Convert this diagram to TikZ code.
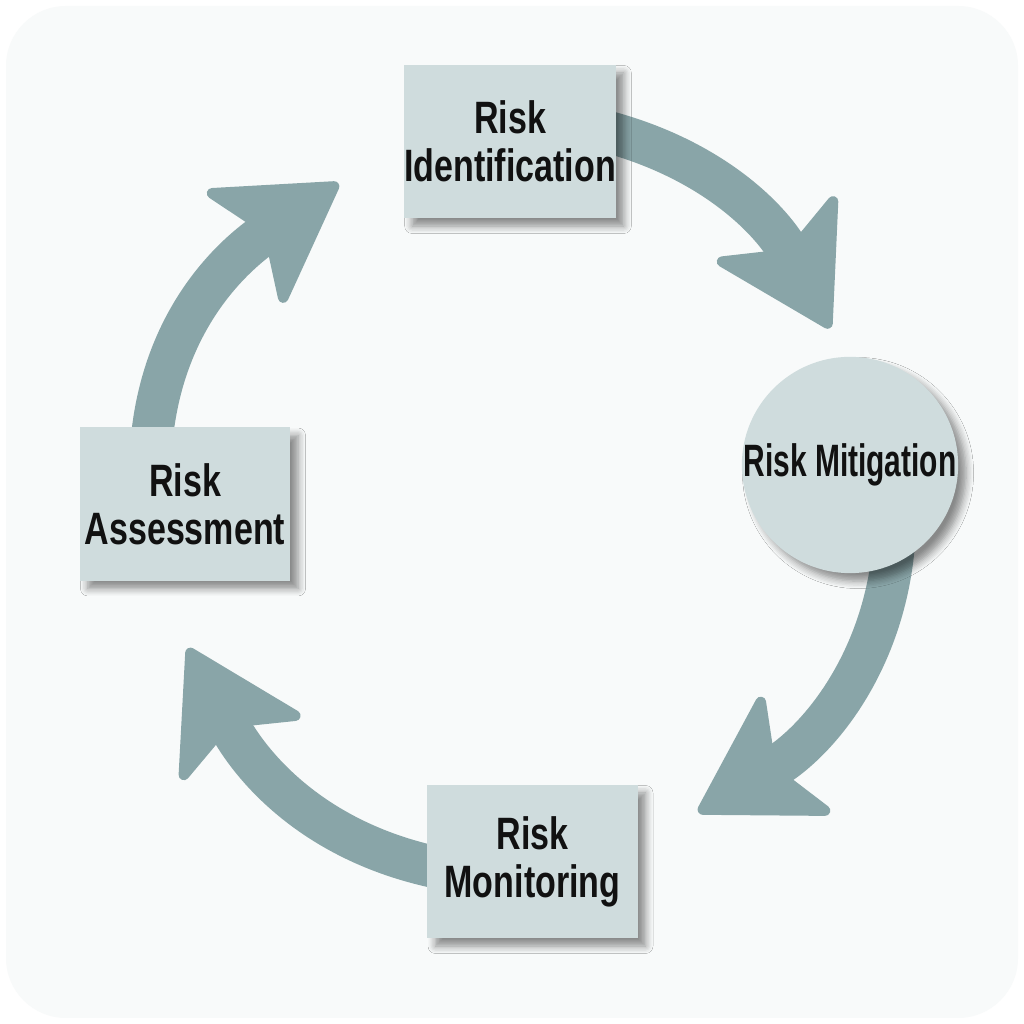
\documentclass[tikz,border=0pt]{standalone}
\usepackage{fontspec}
\setmainfont{Liberation Sans}[FakeStretch=0.75]
\newfontfamily\mitfont{Liberation Sans}[FakeStretch=0.66]
\usetikzlibrary{arrows.meta,shadows.blur}
\definecolor{bandgray}{HTML}{89A5A8}
\definecolor{boxgray}{HTML}{CFDCDD}
\definecolor{pagegray}{HTML}{F8FAFA}
\definecolor{inkblack}{HTML}{111111}
\pgfdeclarelayer{back}
\pgfsetlayers{back,main}
\tikzset{
  stage/.style={fill=boxgray, minimum width=2.1cm, minimum height=1.53cm, inner sep=0pt,
    align=center, text=inkblack, font=\bfseries\fontsize{12.9}{13.7}\selectfont,
    blur shadow={shadow xshift=0.08cm, shadow yshift=-0.08cm, shadow opacity=45, shadow blur steps=6}},
  roundstage/.style={stage, circle, minimum size=2.06cm, font=\mitfont\bfseries\fontsize{12.9}{13.7}\selectfont},
  band/.style={bandgray, line width=0.42cm,
    -{Stealth[length=1.25cm, width=1.5cm, inset=0.3cm, round, line width=3pt]}}
}
\begin{document}
\begin{tikzpicture}[x=0.01cm,y=0.01cm]
	\useasboundingbox (0,0) rectangle (1024,1024);
	\node[stage] (ident) at (510,882.5) {Risk\\Identification};
	\node[roundstage] (mitig) at (850,559) {Risk Mitigation};
	\node[stage] (monit) at (532.5,162.5) {Risk\\Monitoring};
	\node[stage] (assess) at (185,520) {Risk\\Assessment};
	\begin{pgfonlayer}{back}
		\fill[white] (0,0) rectangle (1024,1024);
		\fill[pagegray, rounded corners=0.6cm] (6,6) rectangle (1018,1018);
		% the cycle
		\draw[band] ([shift={(-10,10)}]ident.east) to[out=-15, in=118.5] ([shift={(-20,28)}]mitig.north);
		\draw[band] ([shift={(45,-35)}]mitig.center) to[out=-88, in=30.6] ([shift={(60,-28)}]monit.north east);
		\draw[band] ([shift={(10,-6)}]monit.west) to[out=168, in=-62] ([shift={(3,-67)}]assess.south);
		\draw[band] ([shift={(-33,-10)}]assess.north) to[out=84, in=214.3] ([shift={(-65,-42)}]ident.west);
	\end{pgfonlayer}
\end{tikzpicture}
\end{document}
